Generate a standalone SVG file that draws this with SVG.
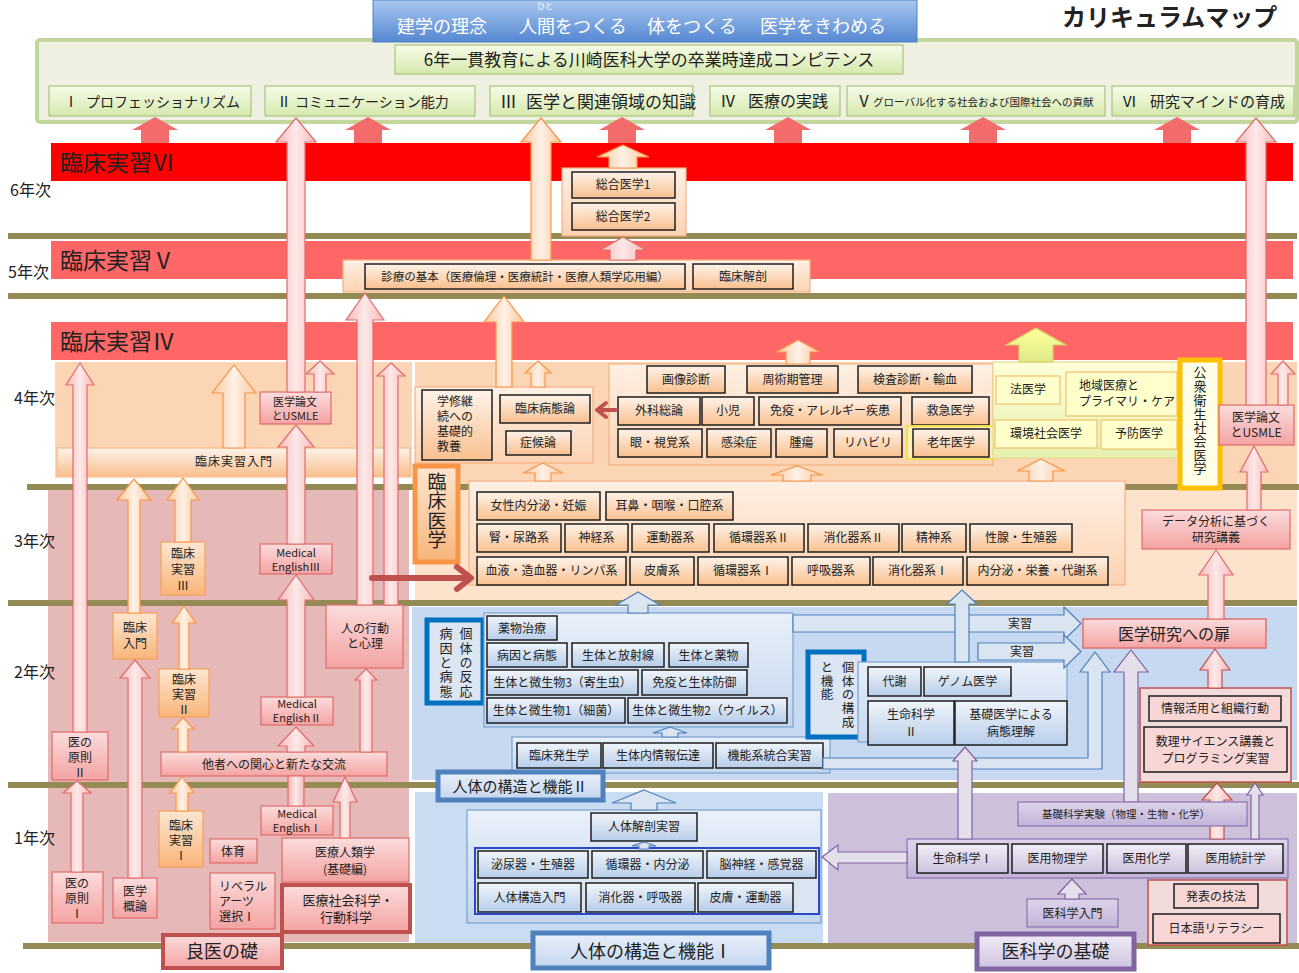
<svg xmlns="http://www.w3.org/2000/svg" width="1299" height="973" viewBox="0 0 1299 973">
<defs>
<linearGradient id="gBanner" x1="0" y1="0" x2="0" y2="1"><stop offset="0" stop-color="#a9c8f0"/><stop offset="1" stop-color="#5587d2"/></linearGradient>
<linearGradient id="gGreen" x1="0" y1="0" x2="0" y2="1"><stop offset="0" stop-color="#f6fbe9"/><stop offset="1" stop-color="#d6e9ad"/></linearGradient>
<linearGradient id="gPeach" x1="0" y1="0" x2="0" y2="1"><stop offset="0" stop-color="#fef3ea"/><stop offset="1" stop-color="#f9c08f"/></linearGradient>
<linearGradient id="gPeachL" x1="0" y1="0" x2="0" y2="1"><stop offset="0" stop-color="#fef0e4"/><stop offset="1" stop-color="#fcd3b2"/></linearGradient>
<linearGradient id="gOrange" x1="0" y1="0" x2="0" y2="1"><stop offset="0" stop-color="#fee6d0"/><stop offset="1" stop-color="#f9b57a"/></linearGradient>
<linearGradient id="gPink" x1="0" y1="0" x2="0" y2="1"><stop offset="0" stop-color="#fcdcdc"/><stop offset="1" stop-color="#f4a3a3"/></linearGradient>
<linearGradient id="gBlue" x1="0" y1="0" x2="0" y2="1"><stop offset="0" stop-color="#f0f5fb"/><stop offset="1" stop-color="#b8cde9"/></linearGradient>
<linearGradient id="gBlueL" x1="0" y1="0" x2="0" y2="1"><stop offset="0" stop-color="#e9f0fa"/><stop offset="1" stop-color="#c3d6ee"/></linearGradient>
<linearGradient id="gLav" x1="0" y1="0" x2="0" y2="1"><stop offset="0" stop-color="#f1edf6"/><stop offset="1" stop-color="#cdc1de"/></linearGradient>
<linearGradient id="gLavC" x1="0" y1="0" x2="0" y2="1"><stop offset="0" stop-color="#ddd4ea"/><stop offset="1" stop-color="#c2b3d8"/></linearGradient>
<linearGradient id="gYel" x1="0" y1="0" x2="0" y2="1"><stop offset="0" stop-color="#ffffd8"/><stop offset="1" stop-color="#e6f0b0"/></linearGradient>
<linearGradient id="gPinkA" x1="0" y1="0" x2="1" y2="0"><stop offset="0" stop-color="#f7b8b8"/><stop offset="0.5" stop-color="#fde9e9"/><stop offset="1" stop-color="#f7b8b8"/></linearGradient>
<linearGradient id="gOrA" x1="0" y1="0" x2="1" y2="0"><stop offset="0" stop-color="#fbc79c"/><stop offset="0.5" stop-color="#fef1e6"/><stop offset="1" stop-color="#fbc79c"/></linearGradient>
<linearGradient id="gYelA" x1="0" y1="0" x2="0" y2="1"><stop offset="0" stop-color="#ffff9a"/><stop offset="1" stop-color="#dfe98a"/></linearGradient>
</defs>
<style>
text{font-family:"Noto Sans CJK JP","Noto Sans",sans-serif;fill:#222}
.c{text-anchor:middle}
.w{fill:#fff}
.v{writing-mode:vertical-rl;text-anchor:start}
.f8{font-size:8px}.f10{font-size:10.5px}.f11{font-size:11px}.f12{font-size:12px}.f13{font-size:13px}.f14{font-size:14px}.f15{font-size:15px}.f16{font-size:16px}.f17{font-size:17px}.f18{font-size:18px}.f23{font-size:23px}
.b{font-weight:bold}
.ls{letter-spacing:1px}
.line{stroke:#948a54;stroke-width:6}
.bx{fill:url(#gPeach);stroke:#1e1e1e;stroke-width:1.5}
.bb{fill:url(#gBlue);stroke:#1e1e1e;stroke-width:1.5}
.bp{fill:url(#gLav);stroke:#1e1e1e;stroke-width:1.5}
.bpk{fill:#f9d6d6;stroke:#1e1e1e;stroke-width:1.5}
.pk{fill:url(#gPink);stroke:#e06c6c;stroke-width:1.2}
.or{fill:url(#gOrange);stroke:#f5a05a;stroke-width:1.2}
.cont{fill:url(#gPeachL);stroke:#f4b183;stroke-width:1.2}
.contb{fill:url(#gBlueL);stroke:#7ba0cd;stroke-width:1.2}
.contp{fill:url(#gLavC);stroke:#8a72b0;stroke-width:1.2}
.yb{fill:#ffffcc;stroke:#f0c070;stroke-width:1.2}
.gb{fill:url(#gGreen);stroke:#a9c47f;stroke-width:1.2}
.lbl-b{fill:url(#gBlueL);stroke:#4f81bd;stroke-width:5}
.a-red{fill:#f46b6b}
.a-pk{fill:url(#gPinkA);stroke:#e06c6c;stroke-width:1.2}
.a-or{fill:url(#gOrA);stroke:#f79646;stroke-width:1.2}
.a-bl{fill:#dbe5f1;stroke:#4f81bd;stroke-width:1.2}
.a-pu{fill:#e5dfec;stroke:#8064a2;stroke-width:1.2}
.a-ye{fill:url(#gYelA);stroke:#d6d060;stroke-width:1.2}
.a-rd{fill:none;stroke:#c0504d;stroke-linecap:round;stroke-linejoin:round}
</style>

<g id="backgrounds">
<rect x="55" y="362" width="357" height="116" fill="#fcd5b5"/>
<rect x="415" y="362" width="882" height="125" fill="#fcd5b5"/>
<rect x="415" y="487" width="882" height="113" fill="#fde2cc"/>
<rect x="48" y="488" width="361" height="454" fill="#e6b9b8"/>
<rect x="412" y="607" width="885" height="173" fill="#c6d9f0"/>
<rect x="415" y="792" width="408" height="151" fill="#cadcf1"/>
<rect x="828" y="793" width="469" height="150" fill="#ccc0da"/>
</g>

<g id="year-lines">
<line class="line" x1="8" y1="236" x2="1297" y2="236"/>
<line class="line" x1="8" y1="296" x2="1297" y2="296"/>
<line class="line" x1="27" y1="487" x2="1299" y2="487"/>
<line class="line" x1="8" y1="603" x2="1297" y2="603"/>
<line class="line" x1="8" y1="785" x2="1299" y2="785"/>
<line class="line" x1="23" y1="946" x2="1299" y2="946"/>
</g>

<g id="year-labels" class="f16">
<text x="10" y="196">6年次</text>
<text x="8" y="278">5年次</text>
<text x="14" y="404">4年次</text>
<text x="14" y="547">3年次</text>
<text x="14" y="678">2年次</text>
<text x="14" y="844">1年次</text>
</g>

<g id="competence-frame">
<rect x="37" y="40" width="1260" height="82" rx="3" fill="#eef0e2" stroke="#c3d69b" stroke-width="4"/>
</g>
<g id="banner">
<rect x="373" y="0" width="544" height="42" fill="url(#gBanner)" stroke="#4f81bd" stroke-width="1"/>
<text class="w f8" x="537" y="9">ひと</text>
<text class="w f18" y="33"><tspan x="397">建学の理念</tspan><tspan x="519">人間をつくる</tspan><tspan x="647">体をつくる</tspan><tspan x="760">医学をきわめる</tspan></text>
</g>
<g id="title"><text class="b" x="1062" y="26" style="font-size:24px">カリキュラムマップ</text></g>
<g id="competence-title">
<rect class="gb" x="395" y="45" width="508" height="29"/>
<text class="c f17" x="649" y="66">6年一貫教育による川崎医科大学の卒業時達成コンピテンス</text>
</g>
<g id="comp1"><rect class="gb" x="49" y="86" width="202" height="30"/><text class="f14" y="107"><tspan x="64">Ⅰ</tspan><tspan x="86">プロフェッショナリズム</tspan></text></g>
<g id="comp2"><rect class="gb" x="265" y="86" width="210" height="30"/><text class="f14" y="107"><tspan x="277">Ⅱ</tspan><tspan x="295">コミュニケーション能力</tspan></text></g>
<g id="comp3"><rect class="gb" x="490" y="86" width="203" height="30"/><text class="f17" y="108"><tspan x="500">Ⅲ</tspan><tspan x="526">医学と関連領域の知識</tspan></text></g>
<g id="comp4"><rect class="gb" x="710" y="86" width="130" height="30"/><text class="f16" y="107"><tspan x="720">Ⅳ</tspan><tspan x="748">医療の実践</tspan></text></g>
<g id="comp5"><rect class="gb" x="847" y="86" width="258" height="30"/><text y="107"><tspan class="f16" x="856">Ⅴ</tspan><tspan class="f10" x="873" y="106">グローバル化する社会および国際社会への貢献</tspan></text></g>
<g id="comp6"><rect class="gb" x="1112" y="86" width="182" height="30"/><text class="f15" y="107"><tspan x="1122">Ⅵ</tspan><tspan x="1150">研究マインドの育成</tspan></text></g>

<g id="rinsho6"><rect x="51" y="143" width="1242" height="38" fill="#ff0000"/><text class="f23" x="60" y="171">臨床実習Ⅵ</text></g>
<g id="rinsho5"><rect x="51" y="241" width="1242" height="38" fill="#ff6666"/><text class="f23" x="60" y="269">臨床実習Ⅴ</text></g>
<g id="rinsho4"><rect x="51" y="322" width="1242" height="38" fill="#ff6666"/><text class="f23" x="60" y="350">臨床実習Ⅳ</text></g>

<g id="sogo">
<rect class="cont" x="562" y="168" width="124" height="68"/>
<rect class="bx" x="572" y="172" width="103" height="26"/><text class="c f12" x="623" y="189">総合医学1</text>
<rect class="bx" x="572" y="203" width="103" height="27"/><text class="c f12" x="623" y="221">総合医学2</text>
</g>
<g id="shinryo">
<rect class="cont" x="343" y="260" width="467" height="32"/>
<rect class="bx" x="365" y="264" width="320" height="25"/><text class="c" x="525" y="281" style="font-size:11.5px">診療の基本（医療倫理・医療統計・医療人類学応用編）</text>
<rect class="bx" x="693" y="264" width="100" height="25"/><text class="c f12" x="743" y="281">臨床解剖</text>
</g>

<g id="rinsho-nyumon"><rect x="57" y="448" width="353" height="28" fill="url(#gPeach)" stroke="#f6b98a" stroke-width="1.2"/><text class="c f12 ls" x="234" y="466">臨床実習入門</text></g>
<g id="ronbun-l"><rect class="pk" x="260" y="392" width="71" height="32"/><text class="c f11" x="295" y="406">医学論文<tspan x="295" dy="14">とUSMLE</tspan></text></g>

<g id="kyoyo">
<rect class="cont" x="415" y="387" width="178" height="76"/>
<rect class="bx" x="422" y="390" width="70" height="70"/>
<text class="f12" x="437" y="406">学修継<tspan x="437" dy="15">続への</tspan><tspan x="437" dy="15">基礎的</tspan><tspan x="437" dy="15">教養</tspan></text>
<rect class="bx" x="500" y="395" width="90" height="28"/><text class="c f12" x="545" y="413">臨床病態論</text>
<rect class="bx" x="506" y="431" width="65" height="24"/><text class="c f12" x="538" y="447">症候論</text>
</g>

<g id="clinical4">
<rect class="cont" x="609" y="364" width="384" height="101"/>
<rect class="bx" x="647" y="366" width="78" height="27"/><text class="c f12" x="686" y="384">画像診断</text>
<rect class="bx" x="747" y="366" width="91" height="27"/><text class="c f12" x="792.5" y="384">周術期管理</text>
<rect class="bx" x="858" y="366" width="114" height="27"/><text class="c f12" x="915" y="384">検査診断・輸血</text>
<rect class="bx" x="618" y="397" width="82" height="28"/><text class="c f12" x="659" y="415">外科総論</text>
<rect class="bx" x="702" y="397" width="52" height="28"/><text class="c f12" x="728" y="415">小児</text>
<rect class="bx" x="759" y="397" width="142" height="28"/><text class="c f12" x="830" y="415">免疫・アレルギー疾患</text>
<rect class="bx" x="912" y="397" width="77" height="28"/><text class="c f12" x="950.5" y="415">救急医学</text>
<rect class="bx" x="618" y="429" width="84" height="28"/><text class="c f12" x="660" y="447">眼・視覚系</text>
<rect class="bx" x="707" y="429" width="64" height="28"/><text class="c f12" x="739" y="447">感染症</text>
<rect class="bx" x="776" y="429" width="51" height="28"/><text class="c f12" x="801.5" y="447">腫瘍</text>
<rect class="bx" x="834" y="429" width="68" height="28"/><text class="c f12" x="868" y="447">リハビリ</text>
<rect x="907" y="426" width="88" height="33" fill="#fbf0b8" stroke="#f0e050" stroke-width="2"/>
<rect class="bx" x="913" y="429" width="76" height="28"/><text class="c f12" x="951" y="447">老年医学</text>
</g>

<g id="public-health-courses">
<rect x="993" y="362" width="185" height="96" fill="url(#gYel)" stroke="#e6d890" stroke-width="1.2"/>
<rect class="yb" x="996" y="376" width="64" height="28"/><text class="c f12" x="1028" y="394">法医学</text>
<rect class="yb" x="1066" y="372" width="111" height="44"/><text class="f12" x="1079" y="390">地域医療と<tspan x="1079" dy="16">プライマリ・ケア</tspan></text>
<rect class="yb" x="995" y="420" width="102" height="28"/><text class="c f12" x="1046" y="438">環境社会医学</text>
<rect class="yb" x="1101" y="420" width="76" height="29"/><text class="c f12" x="1139" y="438">予防医学</text>
</g>
<g id="public-health-label">
<rect x="1180" y="360" width="40" height="128" fill="#ffffe8" stroke="#ffc000" stroke-width="5"/>
<text class="v f13" x="1200" y="366" style="letter-spacing:0.7px">公衆衛生社会医学</text>
</g>
<g id="ronbun-r"><rect class="pk" x="1219" y="405" width="75" height="40"/><text class="c f12" x="1256" y="422">医学論文<tspan x="1256" dy="15">とUSMLE</tspan></text></g>
<g id="data"><rect class="pk" x="1142" y="510" width="148" height="39"/><text class="c f12" x="1216" y="526">データ分析に基づく<tspan x="1216" dy="16">研究講義</tspan></text></g>

<g id="rinsho-igaku">
<rect x="415" y="466" width="43" height="96" fill="url(#gOrange)" stroke="#f79646" stroke-width="5"/>
<text class="v" x="437" y="472" style="font-size:19px;letter-spacing:0.5px">臨床医学</text>
</g>
<g id="clinical3">
<rect class="cont" x="469" y="481" width="656" height="104"/>
<rect class="bx" x="477" y="492" width="123" height="28"/><text class="c f12" x="538.5" y="510">女性内分泌・妊娠</text>
<rect class="bx" x="606" y="492" width="127" height="28"/><text class="c f12" x="669.5" y="510">耳鼻・咽喉・口腔系</text>
<rect class="bx" x="477" y="524" width="84" height="28"/><text class="c f12" x="519" y="542">腎・尿路系</text>
<rect class="bx" x="565" y="524" width="63" height="28"/><text class="c f12" x="596.5" y="542">神経系</text>
<rect class="bx" x="632" y="524" width="77" height="28"/><text class="c f12" x="670.5" y="542">運動器系</text>
<rect class="bx" x="714" y="524" width="90" height="28"/><text class="c f12" x="759" y="542">循環器系Ⅱ</text>
<rect class="bx" x="808" y="524" width="91" height="28"/><text class="c f12" x="853.5" y="542">消化器系Ⅱ</text>
<rect class="bx" x="902" y="524" width="64" height="28"/><text class="c f12" x="934" y="542">精神系</text>
<rect class="bx" x="970" y="524" width="102" height="28"/><text class="c f12" x="1021" y="542">性腺・生殖器</text>
<rect class="bx" x="477" y="557" width="149" height="28"/><text class="c f12" x="551.5" y="575">血液・造血器・リンパ系</text>
<rect class="bx" x="630" y="557" width="64" height="28"/><text class="c f12" x="662" y="575">皮膚系</text>
<rect class="bx" x="698" y="557" width="90" height="28"/><text class="c f12" x="743" y="575">循環器系Ⅰ</text>
<rect class="bx" x="792" y="557" width="78" height="28"/><text class="c f12" x="831" y="575">呼吸器系</text>
<rect class="bx" x="873" y="557" width="90" height="28"/><text class="c f12" x="918" y="575">消化器系Ⅰ</text>
<rect class="bx" x="967" y="557" width="141" height="28"/><text class="c f12" x="1037.5" y="575">内分泌・栄養・代謝系</text>
</g>

<g id="rinsho-intro"><rect class="or" x="113" y="613" width="44" height="46"/><text class="c f12" x="135" y="632">臨床<tspan x="135" dy="16">入門</tspan></text></g>
<g id="jisshu3"><rect class="or" x="161" y="542" width="44" height="53"/><text class="c f12" x="183" y="558">臨床<tspan x="183" dy="16">実習</tspan><tspan x="183" dy="16">Ⅲ</tspan></text></g>
<g id="me3"><rect class="pk" x="260" y="544" width="72" height="30"/><text class="c f11" x="296" y="557">Medical<tspan x="296" dy="14">EnglishⅢ</tspan></text></g>
<g id="jisshu2"><rect class="or" x="159" y="669" width="50" height="48"/><text class="c f12" x="184" y="684">臨床<tspan x="184" dy="15">実習</tspan><tspan x="184" dy="15">Ⅱ</tspan></text></g>
<g id="gensoku2"><rect class="pk" x="52" y="732" width="56" height="48"/><text class="c f12" x="80" y="747">医の<tspan x="80" dy="15">原則</tspan><tspan x="80" dy="15">Ⅱ</tspan></text></g>
<g id="me2"><rect class="pk" x="261" y="697" width="72" height="28"/><text class="c f11" x="297" y="708">Medical<tspan x="297" dy="14">EnglishⅡ</tspan></text></g>
<g id="kodo"><rect class="pk" x="326" y="605" width="77" height="63"/><text class="c f12" x="365" y="633">人の行動<tspan x="365" dy="15">と心理</tspan></text></g>
<g id="tasha"><rect class="pk" x="161" y="752" width="226" height="24"/><text class="c f12" x="274" y="769">他者への関心と新たな交流</text></g>
<g id="jisshu1"><rect class="or" x="159" y="811" width="44" height="56"/><text class="c f12" x="181" y="830">臨床<tspan x="181" dy="15">実習</tspan><tspan x="181" dy="15">Ⅰ</tspan></text></g>
<g id="me1"><rect class="pk" x="261" y="806" width="72" height="29"/><text class="c f11" x="297" y="818">Medical<tspan x="297" dy="14">EnglishⅠ</tspan></text></g>
<g id="taiiku"><rect class="pk" x="210" y="839" width="47" height="24"/><text class="c f12" x="233" y="856">体育</text></g>
<g id="jinrui"><rect class="pk" x="282" y="838" width="127" height="44"/><text class="c f12" x="345" y="857">医療人類学<tspan x="345" dy="17">(基礎編)</tspan></text></g>
<g id="gensoku1"><rect class="pk" x="52" y="872" width="51" height="51"/><text class="c f12" x="77" y="888">医の<tspan x="77" dy="15">原則</tspan><tspan x="77" dy="15">Ⅰ</tspan></text></g>
<g id="gairon"><rect class="pk" x="113" y="878" width="44" height="40"/><text class="c f12" x="135" y="896">医学<tspan x="135" dy="15">概論</tspan></text></g>
<g id="liberal"><rect class="pk" x="210" y="873" width="65" height="56"/><text class="f12" x="219" y="891">リベラル<tspan x="219" dy="15">アーツ</tspan><tspan x="219" dy="15">選択Ⅰ</tspan></text></g>
<g id="shakai"><rect x="282" y="885" width="128" height="47" fill="url(#gPink)" stroke="#c0504d" stroke-width="4"/><text class="c f13" x="348" y="905">医療社会科学・<tspan x="346" dy="17">行動科学</tspan></text></g>
<g id="ryoi"><rect x="163" y="935" width="119" height="33" fill="url(#gPink)" stroke="#c0504d" stroke-width="4"/><text class="c f18" x="222" y="958">良医の礎</text></g>

<g id="hanno-label">
<rect x="427" y="620" width="56" height="83" fill="#dce6f2" stroke="#0070c0" stroke-width="5"/>
<text class="v f13" x="466" y="627" style="letter-spacing:1.3px">個体の反応</text>
<text class="v f13" x="446" y="627" style="letter-spacing:1.3px">病因と病態</text>
</g>
<g id="pathology">
<rect class="contb" x="484" y="613" width="309" height="114"/>
<rect class="bb" x="487" y="616" width="70" height="24"/><text class="c f12" x="522" y="633">薬物治療</text>
<rect class="bb" x="487" y="643" width="80" height="24"/><text class="c f12" x="527" y="660">病因と病態</text>
<rect class="bb" x="572" y="643" width="92" height="24"/><text class="c f12" x="618" y="660">生体と放射線</text>
<rect class="bb" x="669" y="643" width="79" height="24"/><text class="c f12" x="708.5" y="660">生体と薬物</text>
<rect class="bb" x="487" y="670" width="151" height="25"/><text class="c f12" x="562.5" y="687">生体と微生物3（寄生虫）</text>
<rect class="bb" x="642" y="670" width="105" height="25"/><text class="c f12" x="694.5" y="687">免疫と生体防御</text>
<rect class="bb" x="487" y="698" width="138" height="25"/><text class="c f12" x="556" y="715">生体と微生物1（細菌）</text>
<rect class="bb" x="628" y="698" width="159" height="25"/><text class="c f12" x="707.5" y="715">生体と微生物2（ウイルス）</text>
</g>
<g id="function-courses">
<rect class="contb" x="512" y="737" width="318" height="36"/>
<rect class="bb" x="517" y="743" width="84" height="25"/><text class="c f12" x="559" y="760">臨床発生学</text>
<rect class="bb" x="603" y="743" width="110" height="25"/><text class="c f12" x="658" y="760">生体内情報伝達</text>
<rect class="bb" x="716" y="743" width="107" height="25"/><text class="c f12" x="769.5" y="760">機能系統合実習</text>
</g>
<g id="kozo2-label"><rect class="lbl-b" x="438" y="772" width="165" height="28"/><text class="c f15" x="520" y="792">人体の構造と機能Ⅱ</text></g>
<g id="kosei-label">
<rect x="808" y="652" width="56" height="85" fill="#dce6f2" stroke="#0070c0" stroke-width="5"/>
<text class="v" x="848" y="661" style="font-size:12.5px;letter-spacing:1.2px">個体の構成</text>
<text class="v" x="827" y="661" style="font-size:12.5px;letter-spacing:1.2px">と機能</text>
</g>
<g id="kosei">
<rect class="contb" x="858" y="662" width="209" height="80"/>
<rect class="bb" x="868" y="667" width="53" height="29"/><text class="c f12" x="894.5" y="686">代謝</text>
<rect class="bb" x="924" y="667" width="87" height="29"/><text class="c f12" x="967.5" y="686">ゲノム医学</text>
<rect class="bb" x="868" y="701" width="86" height="44"/><text class="c f12" x="911" y="719">生命科学<tspan x="911" dy="17">Ⅱ</tspan></text>
<rect class="bb" x="955" y="701" width="112" height="44"/><text class="c f12" x="1011" y="719">基礎医学による<tspan x="1011" dy="17">病態理解</tspan></text>
</g>
<g id="tobira"><rect x="1083" y="619" width="183" height="29" fill="url(#gPink)" stroke="#e07070" stroke-width="1.5"/><text class="c f16" x="1174" y="640">医学研究への扉</text></g>
<g id="joho">
<rect x="1140" y="688" width="151" height="94" fill="#f2dcdb" stroke="#c0504d" stroke-width="1.5"/>
<rect class="bpk" x="1149" y="696" width="132" height="25"/><text class="c f12" x="1215" y="713">情報活用と組織行動</text>
<rect class="bpk" x="1144" y="727" width="143" height="45"/><text class="c f12" x="1215.5" y="746">数理サイエンス講義と<tspan x="1215.5" dy="17">プログラミング実習</tspan></text>
</g>

<g id="kozo1">
<rect class="contb" x="467" y="810" width="354" height="113"/>
<rect class="bb" x="591" y="813" width="106" height="28"/><text class="c f12" x="644" y="831">人体解剖実習</text>
<rect x="475" y="848" width="344" height="66" fill="#dbe5f1" stroke="#2a48c8" stroke-width="2"/>
<rect class="bb" x="478" y="851" width="110" height="27"/><text class="c f12" x="533" y="869">泌尿器・生殖器</text>
<rect class="bb" x="592" y="851" width="111" height="27"/><text class="c f12" x="647.5" y="869">循環器・内分泌</text>
<rect class="bb" x="707" y="851" width="109" height="27"/><text class="c f12" x="761.5" y="869">脳神経・感覚器</text>
<rect class="bb" x="478" y="883" width="103" height="29"/><text class="c f12" x="529.5" y="902">人体構造入門</text>
<rect class="bb" x="586" y="883" width="109" height="29"/><text class="c f12" x="640.5" y="902">消化器・呼吸器</text>
<rect class="bb" x="698" y="883" width="95" height="29"/><text class="c f12" x="745.5" y="902">皮膚・運動器</text>
</g>
<g id="kozo1-label"><rect class="lbl-b" x="533" y="933" width="236" height="35"/><text class="c f18" x="651" y="958">人体の構造と機能Ⅰ</text></g>
<g id="science">
<rect class="contp" x="907" y="839" width="381" height="39"/>
<rect class="bp" x="917" y="844" width="91" height="29"/><text class="c f12" x="962.5" y="863">生命科学Ⅰ</text>
<rect class="bp" x="1012" y="844" width="91" height="29"/><text class="c f12" x="1057.5" y="863">医用物理学</text>
<rect class="bp" x="1107" y="844" width="79" height="29"/><text class="c f12" x="1146.5" y="863">医用化学</text>
<rect class="bp" x="1188" y="844" width="95" height="29"/><text class="c f12" x="1235.5" y="863">医用統計学</text>
</g>
<g id="ikagaku-nyumon"><rect class="contp" x="1027" y="899" width="91" height="28"/><text class="c f12" x="1072.5" y="918">医科学入門</text></g>
<g id="happyo">
<rect x="1148" y="880" width="139" height="65" fill="#f2dcdb" stroke="#c0504d" stroke-width="1.5"/>
<rect class="bpk" x="1174" y="884" width="84" height="24"/><text class="c f12" x="1216" y="901">発表の技法</text>
<rect class="bpk" x="1153" y="914" width="127" height="29"/><text class="c f12" x="1216.5" y="933">日本語リテラシー</text>
</g>
<g id="ikagaku-label"><rect x="977" y="934" width="157" height="35" fill="url(#gLav)" stroke="#8064a2" stroke-width="5"/><text class="c f18" x="1055.5" y="958">医科学の基礎</text></g>

<g id="connectors">
<path class="a-red" d="M155,117 L178,130 L169,130 L169,143 L141,143 L141,130 L132,130Z"/>
<path class="a-red" d="M368,117 L391,130 L382,130 L382,143 L354,143 L354,130 L345,130Z"/>
<path class="a-red" d="M622,117 L645,130 L636,130 L636,143 L608,143 L608,130 L599,130Z"/>
<path class="a-red" d="M788,117 L811,130 L802,130 L802,143 L774,143 L774,130 L765,130Z"/>
<path class="a-red" d="M983,117 L1006,130 L997,130 L997,143 L969,143 L969,130 L960,130Z"/>
<path class="a-red" d="M1177,117 L1200,130 L1191,130 L1191,143 L1163,143 L1163,130 L1154,130Z"/>

<path class="a-pk" d="M296,118 L316,142 L305,142 L305,392 L287,392 L287,142 L276,142Z"/>
<path class="a-pk" d="M320,361 L334,374 L326,374 L326,392 L314,392 L314,374 L306,374Z"/>
<path class="a-pk" d="M296,425 L314,447 L305,447 L305,544 L287,544 L287,447 L278,447Z"/>
<path class="a-pk" d="M296,575 L314,600 L305,600 L305,697 L287,697 L287,600 L278,600Z"/>
<path class="a-pk" d="M296,727 L314,746 L305,746 L305,752 L287,752 L287,746 L278,746Z"/>
<path class="a-pk" d="M288,776 H304 V806 H288Z"/>
<path class="a-pk" d="M80,363 L94,385 L87,385 L87,732 L73,732 L73,385 L66,385Z"/>
<path class="a-pk" d="M77,781 L91,793 L83,793 L83,872 L71,872 L71,793 L63,793Z"/>
<path class="a-pk" d="M135,660 L150,678 L142,678 L142,878 L128,878 L128,678 L120,678Z"/>
<path class="a-pk" d="M365,293 L384,320 L373,320 L373,605 L357,605 L357,320 L346,320Z"/>
<path class="a-pk" d="M391,363 L405,376 L398,376 L398,605 L384,605 L384,376 L377,376Z"/>
<path class="a-pk" d="M366,669 L377,680 L372,680 L372,752 L360,752 L360,680 L355,680Z"/>
<path class="a-pk" d="M345,777 L357,802 L350,802 L350,838 L340,838 L340,802 L333,802Z"/>
<path class="a-pk" d="M1256,118 L1276,142 L1266,142 L1266,405 L1246,405 L1246,142 L1236,142Z"/>
<path class="a-pk" d="M1283,361 L1295,374 L1288,374 L1288,405 L1278,405 L1278,374 L1271,374Z"/>
<path class="a-pk" d="M1254,446 L1268,472 L1261,472 L1261,510 L1247,510 L1247,472 L1240,472Z"/>
<path class="a-pk" d="M1216,550 L1233,575 L1224,575 L1224,619 L1208,619 L1208,575 L1199,575Z"/>
<path class="a-pk" d="M1215,649 L1230,670 L1222,670 L1222,688 L1208,688 L1208,670 L1200,670Z" style="stroke:#c0504d"/>
<path class="a-pk" d="M1217,783 L1232,800 L1224,800 L1224,839 L1210,839 L1210,800 L1202,800Z" style="stroke:#c0504d"/>
<path class="a-pk" d="M623,237 L646,250 L636,250 L636,260 L610,260 L610,250 L600,250Z"/>

<path class="a-or" d="M541,118 L561,142 L551,142 L551,260 L531,260 L531,142 L521,142Z"/>
<path class="a-or" d="M623,145 L649,157 L637,157 L637,168 L609,168 L609,157 L597,157Z"/>
<path class="a-or" d="M504,296 L524,322 L512,322 L512,387 L496,387 L496,322 L484,322Z"/>
<path class="a-or" d="M538,361 L551,373 L545,373 L545,387 L531,387 L531,373 L525,373Z"/>
<path class="a-or" d="M543,463 L563,473 L551,473 L551,481 L535,481 L535,473 L523,473Z"/>
<path class="a-or" d="M234,365 L256,393 L245,393 L245,448 L223,448 L223,393 L212,393Z"/>
<path class="a-or" d="M134,479 L151,500 L140,500 L140,613 L128,613 L128,500 L117,500Z"/>
<path class="a-or" d="M183,478 L199,500 L191,500 L191,542 L175,542 L175,500 L167,500Z"/>
<path class="a-or" d="M184,606 L196,623 L189,623 L189,669 L179,669 L179,623 L172,623Z"/>
<path class="a-or" d="M183,718 L194,729 L188,729 L188,752 L178,752 L178,729 L172,729Z"/>
<path class="a-or" d="M182,777 L194,793 L188,793 L188,811 L176,811 L176,793 L170,793Z"/>
<path class="a-or" d="M798,340 L820,352 L810,352 L810,364 L786,364 L786,352 L776,352Z"/>
<path class="a-or" d="M797,466 L823,475 L811,475 L811,481 L783,481 L783,475 L771,475Z"/>
<path class="a-or" d="M1041,459 L1065,471 L1053,471 L1053,481 L1029,481 L1029,471 L1017,471Z"/>
<path class="a-ye" d="M1036,328 L1066,345 L1053,345 L1053,362 L1019,362 L1019,345 L1006,345Z"/>

<path class="a-bl" d="M638,592 L660,605 L648,605 L648,613 L628,613 L628,605 L616,605Z"/>
<path class="a-bl" d="M670,727 L687,733 L678,733 L678,737 L662,737 L662,733 L653,733Z"/>
<path class="a-bl" d="M644,790 L676,803 L657,803 L657,810 L631,810 L631,803 L612,803Z"/>
<path class="a-bl" d="M793,615 H1064 V607 L1081,623.5 L1064,640 V632 H793Z"/>
<path class="a-bl" d="M978,643 H1064 V635 L1081,651.5 L1064,668 V660 H978Z"/>
<path class="a-bl" d="M962,590 L977,604 L969,604 L969,662 L955,662 L955,604 L947,604Z"/>
<path class="a-bl" d="M823,758 H1088 V672 H1080 L1095,652 L1110,672 H1102 V769 H823Z"/>
<path class="a-bl" d="M644,842 L656,846 L649,846 L649,849 L639,849 L639,846 L632,846Z"/>
<text class="c f12" x="1020" y="628">実習</text>
<text class="c f12" x="1022" y="656">実習</text>

<path class="a-pu" d="M965,747 L977,761 L972,761 L972,839 L958,839 L958,761 L953,761Z"/>
<path class="a-pu" d="M1131,650 L1148,672 L1138,672 L1138,802 L1124,802 L1124,672 L1114,672Z"/>
<path class="a-pu" d="M1255,783 L1263,795 L1259,795 L1259,839 L1251,839 L1251,795 L1247,795Z"/>
<path class="a-pu" d="M822,857 L838,845 V852 H907 V863 H838 V870Z"/>
<path class="a-pu" d="M1072,879 L1086,894 L1079,894 L1079,899 L1065,899 L1065,894 L1058,894Z"/>

<path class="a-rd" d="M372,578 H469" stroke-width="6"/>
<path class="a-rd" d="M457,567 L471,578 L457,589" stroke-width="6"/>
<path class="a-rd" d="M616,410 H598" stroke-width="4"/>
<path class="a-rd" d="M606,403 L597,410 L606,417" stroke-width="4"/>
</g>
<g id="kiso-jikken"><rect class="contp" x="1018" y="802" width="229" height="24"/><text class="c f10" x="1126" y="818">基礎科学実験（物理・生物・化学）</text></g>
</svg>
